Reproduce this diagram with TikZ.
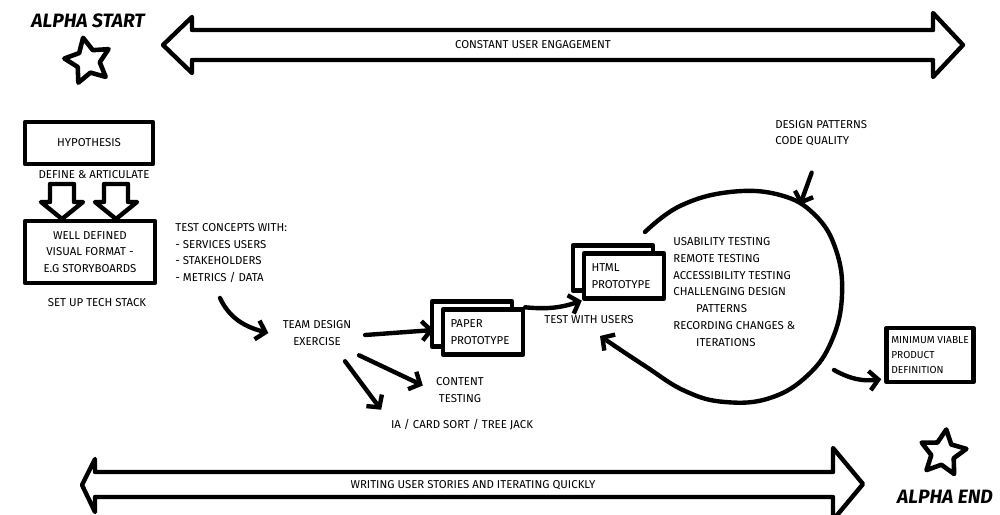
\documentclass[tikz,border=0pt]{standalone}
\usepackage{fontspec}
\setmainfont{Fira Sans}
\usetikzlibrary{positioning,calc,arrows.meta,shapes.geometric}

\begin{document}
\begin{tikzpicture}[x=0.02cm, y=-0.02cm,
        sketch/.style={line width=2.5pt, line cap=round, line join=round},
        sketcharrow/.style={sketch, -{Straight Barb[length=5pt,width=11pt]}},
        txt/.style={font=\fontsize{6.5}{9.5}\selectfont, align=center, inner sep=2pt},
        title/.style={font=\fontsize{11}{12}\selectfont\bfseries\itshape},
        box/.style={txt, sketch, draw, fill=white},
        protobox/.style={box, minimum width=1.6cm, minimum height=0.9cm, text width=1.3cm, align=left},
        starnode/.style={star, star points=5, star point ratio=2, draw, sketch, line width=2.6pt, fill=white, minimum size=0.95cm, inner sep=0pt}]
        \useasboundingbox (0,0) rectangle (1000,514);

        % Start and end
        \node[title] (alphastart) at (88,21) {ALPHA START};
        \node[starnode, rotate=12] (startstar) at (88,61) {};
        \node[starnode, rotate=-8] (endstar) at (943,453) {};
        \node[title] (alphaend) at (945,497) {ALPHA END};

        % Long arrows
        \draw[sketch] (163,45) -- (192,17) -- (192,30) -- (933,30) -- (933,13) -- (963,45) -- (933,77) -- (933,60) -- (192,60) -- (192,73) -- cycle;
        \node[txt] (engage) at (533,45) {CONSTANT USER ENGAGEMENT};
        \draw[sketch] (82,485) -- (95,459) -- (95,472) -- (833,472) -- (833,448) -- (863,484) -- (833,520) -- (833,497) -- (95,497) -- (95,512) -- cycle;
        \node[txt] (stories) at (473,485) {WRITING USER STORIES AND ITERATING QUICKLY};

        % Hypothesis
        \node[box, minimum width=2.56cm, minimum height=0.84cm] (hypo) at (89,143) {HYPOTHESIS};
        \node[txt] (define) at (94,175) {DEFINE \& ARTICULATE};
        \foreach \ax in {62,116}
            \draw[sketch] (\ax-12,184) -- (\ax+12,184) -- (\ax+12,202) -- (\ax+21,202) -- (\ax,219) -- (\ax-21,202) -- (\ax-12,202) -- cycle;
        \node[box, minimum width=2.6cm, minimum height=1.24cm] (format) at (90,252) {WELL DEFINED\\VISUAL FORMAT -\\E.G STORYBOARDS};
        \node[txt] (techstack) at (97,303) {SET UP TECH STACK};
        \node[txt, anchor=west, align=left, inner sep=0pt] (concepts) at (175,253) {TEST CONCEPTS WITH:\\- SERVICES USERS\\- STAKEHOLDERS\\- METRICS / DATA};

        % Team exercise
        \coordinate (conceptsend) at (220,298);
        \node[txt] (team) at (317,333) {TEAM DESIGN\\EXERCISE};
        \node[txt] (content) at (460,390) {CONTENT\\TESTING};
        \node[txt] (cardsort) at (462,425) {IA / CARD SORT / TREE JACK};
        \draw[sketcharrow] (conceptsend) to[out=-65, in=165] ([xshift=-6]team.west);

        % Prototypes
        \node[protobox] (paperback) at (472,324) {};
        \node[protobox] (paper) at (483,332) {PAPER\\PROTOTYPE};
        \node[protobox] (htmlback) at (613,268) {};
        \node[protobox] (html) at (624,276) {HTML\\PROTOTYPE};
        \node[txt] (testusers) at (589,320) {TEST WITH USERS};

        \draw[sketcharrow] ([shift={(10,2)}]team.east) -- ([shift={(4,6)}]paperback.west);
        \draw[sketcharrow, shorten >=6pt] ([shift={(4,6)}]team.south east) -- (content.west);
        \draw[sketcharrow] ([shift={(-10,12)}]team.south east) -- ([shift={(-6,-6)}]cardsort.north west);
        \draw[sketcharrow] (paper.north east) to[bend right=12] (html.south west);

        % Iteration loop
        \coordinate (looptop) at (800,205);
        \coordinate (loopexit) at (834,370);
        \draw[sketcharrow] plot[smooth, tension=0.7] coordinates {(645,232) (680,206) (730,192) (780,195) (815,215) (836,250) (842,295) (832,340) (808,375) (770,398) (725,402) (685,391) (645,366) (600,336)};
        \node[txt, anchor=west, align=left, inner sep=0pt] (checks) at (673,292) {USABILITY TESTING\\REMOTE TESTING\\ACCESSIBILITY TESTING\\CHALLENGING DESIGN\\\hspace{13pt}PATTERNS\\RECORDING CHANGES \&\\\hspace{13pt}ITERATIONS};
        \node[txt, anchor=west, align=left, inner sep=0pt] (quality) at (775,133) {DESIGN PATTERNS\\CODE QUALITY};
        \draw[sketcharrow, shorten <=16pt] (quality.south) -- (looptop);

        % MVP
        \node[box, font=\fontsize{5.8}{8.5}\selectfont, minimum width=1.74cm, minimum height=1.08cm, align=left] (mvp) at (930,355) {MINIMUM VIABLE\\PRODUCT\\DEFINITION};
        \draw[sketcharrow] (loopexit) to[bend right=18] ([shift={(-3,-5)}]mvp.south west);
    \end{tikzpicture}
\end{document}
